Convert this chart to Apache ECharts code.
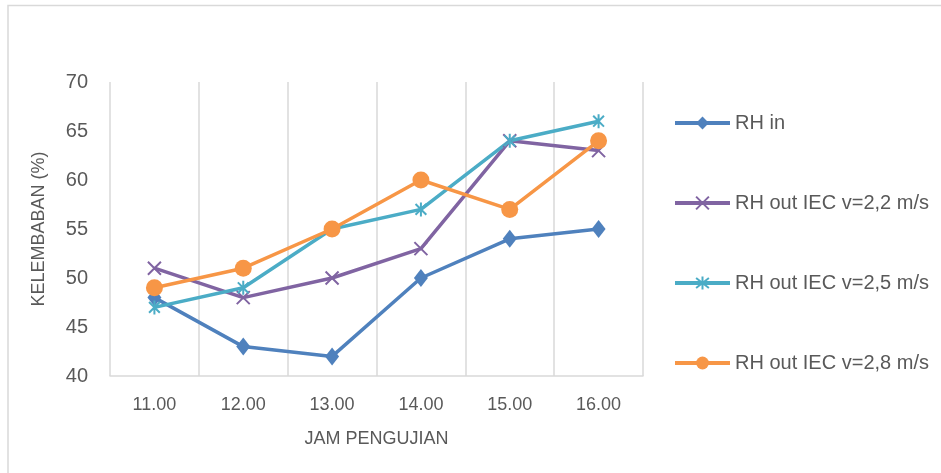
<!DOCTYPE html>
<html>
<head>
<meta charset="utf-8">
<script src="https://cdn.jsdelivr.net/npm/echarts@6/dist/echarts.min.js"></script>
<style>html,body{margin:0;padding:0;background:#fff}#c{width:941px;height:473px}</style>
</head>
<body>
<div id="c"></div>
<script>
const categories = ['11.00', '12.00', '13.00', '14.00', '15.00', '16.00'];
const rhIn = [48, 43, 42, 50, 54, 55];
const rhOut22 = [51, 48, 50, 53, 64, 63];
const rhOut25 = [47, 49, 55, 57, 64, 66];
const rhOut28 = [49, 51, 55, 60, 57, 64];
const seriesNames = ['RH in', 'RH out IEC v=2,2 m/s', 'RH out IEC v=2,5 m/s', 'RH out IEC v=2,8 m/s'];
const yTitle = 'KELEMBABAN (%)';
const xTitle = 'JAM PENGUJIAN';

const textColor = '#595959';
const font = 'Liberation Sans';
const xPath = 'path://M0,0L10,10M10,0L0,10';
const starPath = 'path://M0,0L10,10M10,0L0,10M5,-1.5L5,11.5';

function mk(name, data, color, symbol, size, bw) {
  return {
    name: name, type: 'line', data: data,
    symbol: symbol, symbolSize: size, symbolKeepAspect: true,
    lineStyle: { color: color, width: 3.5 },
    itemStyle: { color: color, borderColor: color, borderWidth: bw },
    emphasis: { disabled: true },
    z: 3
  };
}

const chart = echarts.init(document.getElementById('c'), null, { renderer: 'canvas' });
chart.setOption({
  animation: false,
  backgroundColor: '#fff',
  textStyle: { fontFamily: font },
  graphic: [{
    type: 'rect', silent: true,
    shape: { x: 8, y: 5.5, width: 1000, height: 600 },
    style: { fill: 'none', stroke: '#d9d9d9', lineWidth: 1.5 }
  }],
  grid: { left: 110, right: 298, top: 82, bottom: 97 },
  legend: {
    orient: 'vertical', left: 673, top: 113, padding: 0,
    itemWidth: 55, itemHeight: 16, itemGap: 60,
    lineStyle: { width: 4 },
    textStyle: { color: textColor, fontSize: 20, fontFamily: font, lineHeight: 20 },
    data: seriesNames
  },
  xAxis: {
    type: 'category', data: categories, boundaryGap: true,
    name: xTitle, nameLocation: 'middle', nameGap: 54,
    nameTextStyle: { color: textColor, fontSize: 18, fontFamily: font },
    axisLine: { show: true, lineStyle: { color: '#d9d9d9', width: 1.5 } },
    axisTick: { show: false },
    axisLabel: { color: textColor, fontSize: 18, margin: 20, fontFamily: font },
    splitLine: { show: true, interval: 0, lineStyle: { color: '#d9d9d9', width: 1.5 } }
  },
  yAxis: {
    type: 'value', min: 40, max: 70, interval: 5,
    name: yTitle, nameLocation: 'middle', nameGap: 62,
    nameTextStyle: { color: textColor, fontSize: 18, fontFamily: font },
    axisLine: { show: false }, axisTick: { show: false },
    axisLabel: { color: textColor, fontSize: 20, margin: 22, fontFamily: font },
    splitLine: { show: false }
  },
  series: [
    mk(seriesNames[0], rhIn, '#4F81BD', 'diamond', [14, 18], 0),
    mk(seriesNames[1], rhOut22, '#8064A2', xPath, 13, 2),
    mk(seriesNames[2], rhOut25, '#4BACC6', starPath, 14, 2),
    mk(seriesNames[3], rhOut28, '#F79646', 'circle', 17, 0)
  ]
});
</script>
</body>
</html>
